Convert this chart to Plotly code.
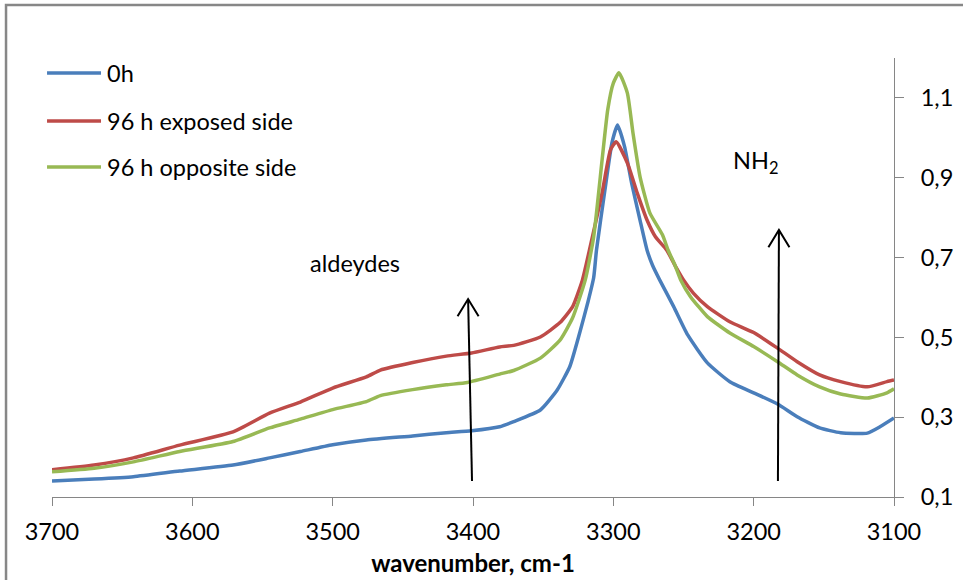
import plotly.graph_objects as go

# ---- data ----
wn_0h = [3700, 3670, 3642, 3609, 3571, 3545, 3523, 3500, 3476, 3443, 3419, 3401, 3381, 3371,
         3352, 3340, 3331, 3324, 3318, 3314, 3312, 3306, 3301, 3297, 3292, 3287, 3281, 3276,
         3272, 3267, 3257, 3247, 3233, 3217, 3200, 3183, 3169, 3153, 3138, 3119, 3110, 3100]
abs_0h = [0.140, 0.145, 0.151, 0.165, 0.180, 0.198, 0.214, 0.231, 0.243, 0.253, 0.261, 0.266, 0.276, 0.289,
          0.318, 0.368, 0.427, 0.511, 0.590, 0.650, 0.719, 0.869, 0.987, 1.032, 0.978, 0.887, 0.794, 0.719,
          0.680, 0.644, 0.577, 0.506, 0.436, 0.389, 0.361, 0.333, 0.301, 0.273, 0.261, 0.260, 0.276, 0.298]

wn_exp = [3700, 3670, 3642, 3609, 3571, 3545, 3523, 3500, 3476, 3466, 3443, 3419, 3401, 3381, 3371,
          3352, 3338, 3329, 3322, 3317, 3308, 3302, 3298, 3290, 3283, 3276, 3270, 3262, 3256, 3250,
          3243, 3233, 3217, 3200, 3183, 3169, 3153, 3138, 3119, 3105, 3100]
abs_exp = [0.168, 0.180, 0.198, 0.230, 0.263, 0.310, 0.338, 0.373, 0.401, 0.418, 0.437, 0.453, 0.461, 0.476, 0.480,
           0.501, 0.537, 0.577, 0.644, 0.719, 0.862, 0.970, 0.990, 0.937, 0.862, 0.794, 0.752, 0.719, 0.680, 0.644,
           0.611, 0.577, 0.539, 0.512, 0.473, 0.439, 0.406, 0.389, 0.376, 0.389, 0.393]

wn_opp = [3700, 3670, 3642, 3609, 3571, 3545, 3523, 3500, 3476, 3466, 3443, 3419, 3404, 3381, 3371,
          3352, 3338, 3329, 3320, 3314, 3308, 3304, 3300, 3296, 3290, 3286, 3281, 3274, 3265, 3261,
          3256, 3252, 3245, 3233, 3217, 3200, 3183, 3169, 3153, 3138, 3119, 3105, 3100]
abs_opp = [0.163, 0.172, 0.188, 0.214, 0.239, 0.273, 0.295, 0.319, 0.339, 0.354, 0.369, 0.381, 0.387, 0.408, 0.417,
           0.448, 0.493, 0.549, 0.644, 0.752, 0.945, 1.070, 1.137, 1.163, 1.112, 1.012, 0.903, 0.812, 0.757, 0.719,
           0.680, 0.644, 0.602, 0.552, 0.511, 0.477, 0.439, 0.406, 0.376, 0.358, 0.348, 0.361, 0.371]

series_names = ["0h", "96 h exposed side", "96 h opposite side"]
series_colors = ["#4A7EBB", "#BE4B48", "#98B954"]

x_ticks = [3700, 3600, 3500, 3400, 3300, 3200, 3100]
y_ticks = [0.1, 0.3, 0.5, 0.7, 0.9, 1.1]
y_tick_text = ["0,1", "0,3", "0,5", "0,7", "0,9", "1,1"]

# annotation labels and arrows (data coordinates)
label_text = ["aldeydes", "NH<sub>2</sub>"]
label_x = [3484, 3199]
label_y = [0.686, 0.940]
arrow_x0 = [3400.7, 3182.7]
arrow_y0 = [0.140, 0.140]
arrow_x1 = [3403.5, 3182.0]
arrow_y1 = [0.596, 0.769]

# legend rows (paper coordinates)
legend_row_y = [0.9658, 0.8565, 0.7517]

FONT = "Lato"
FS = 23.5
fig = go.Figure()
for i, (xs, ys) in enumerate([(wn_0h, abs_0h), (wn_exp, abs_exp), (wn_opp, abs_opp)]):
    fig.add_trace(go.Scatter(x=xs, y=ys, mode="lines", name=series_names[i], showlegend=False,
                             line=dict(color=series_colors[i], width=3.5, shape="spline", smoothing=0.5)))

shapes = []
for i in range(len(arrow_x0)):
    shapes.append(dict(type="line", xref="x", yref="y", x0=arrow_x0[i], y0=arrow_y0[i],
                       x1=arrow_x1[i], y1=arrow_y1[i], line=dict(color="black", width=2)))
    tx, ty = arrow_x1[i], arrow_y1[i]
    dx, dy = 7.5, 0.043
    shapes.append(dict(type="path", xref="x", yref="y",
                       path="M %f,%f L %f,%f L %f,%f" % (tx + dx, ty - dy, tx, ty, tx - dx, ty - dy),
                       line=dict(color="black", width=2)))
# outer chart border
shapes.append(dict(type="rect", xref="paper", yref="paper", x0=-0.0546, x1=1.2, y0=-0.5, y1=1.1207,
                   line=dict(color="#878787", width=2.5), layer="below"))

annotations = []
for i in range(len(label_text)):
    annotations.append(dict(x=label_x[i], y=label_y[i], xref="x", yref="y", text=label_text[i],
                            showarrow=False, font=dict(family=FONT, size=FS, color="#000000")))

# legend drawn as line samples + text
for i, name in enumerate(series_names):
    shapes.append(dict(type="line", xref="paper", yref="paper", x0=-0.0059, x1=0.0582,
                       y0=legend_row_y[i], y1=legend_row_y[i],
                       line=dict(color=series_colors[i], width=3.5)))
    annotations.append(dict(x=0.0625, y=legend_row_y[i], xref="paper", yref="paper", text=name,
                            xanchor="left", yanchor="middle", showarrow=False,
                            font=dict(family=FONT, size=FS, color="#000000")))

fig.update_layout(
    width=963, height=580,
    margin=dict(l=52, r=69, t=58, b=83),
    paper_bgcolor="white", plot_bgcolor="white",
    font=dict(family=FONT, size=FS, color="#000000"),
    shapes=shapes, annotations=annotations,
    showlegend=False,
    xaxis=dict(range=[3700, 3100], tickvals=x_ticks, ticks="outside", ticklen=8, tickcolor="#868686",
               showline=True, linecolor="#868686", linewidth=1, showgrid=False, zeroline=False,
               automargin=False,
               ticklabelstandoff=6, tickfont=dict(family=FONT, size=FS),
               title=dict(text="<b>wavenumber, cm-1</b>", font=dict(family=FONT, size=24), standoff=10)),
    yaxis=dict(range=[0.1, 1.2], side="right", tickvals=y_ticks, ticktext=y_tick_text, ticks="outside",
               ticklen=9, tickcolor="#868686", showline=True, linecolor="#868686", linewidth=1,
               automargin=False,
               showgrid=False, zeroline=False, ticklabelstandoff=12, tickfont=dict(family=FONT, size=FS)),
)

fig.write_html("out.html")
